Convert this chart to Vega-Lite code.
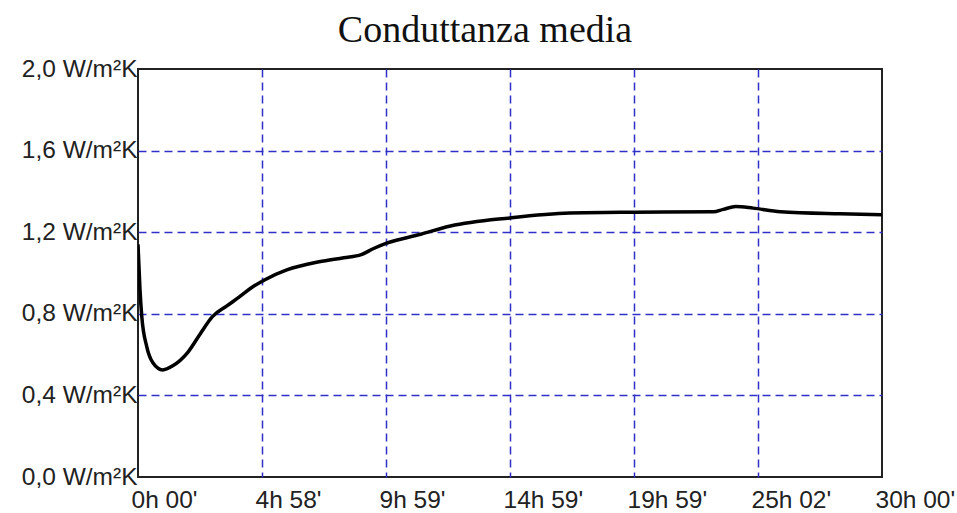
{
  "$schema": "https://vega.github.io/schema/vega-lite/v6.json",
  "width": 744,
  "height": 408,
  "autosize": "none",
  "padding": {"left": 138, "top": 69, "right": 75, "bottom": 36},
  "background": "white",
  "config": {
    "view": {"stroke": "#222222", "strokeWidth": 2},
    "axis": {
      "labelFont": "Liberation Sans",
      "labelFontSize": 24.5,
      "labelColor": "#222222",
      "domain": false,
      "ticks": false,
      "gridColor": "#3030c8",
      "gridDash": [8, 5],
      "gridWidth": 1.5,
      "title": null
    }
  },
  "title": {
    "text": "Conduttanza media",
    "font": "Liberation Serif",
    "fontSize": 38,
    "fontWeight": "normal",
    "color": "#111111",
    "anchor": "middle",
    "frame": "group",
    "baseline": "bottom",
    "dx": -25,
    "dy": 42,
    "offset": 10
  },
  "data": {
    "values": [
      {"h": 0, "v": 1.14},
      {"h": 0.08, "v": 0.92},
      {"h": 0.15, "v": 0.79},
      {"h": 0.35, "v": 0.64},
      {"h": 0.6, "v": 0.56},
      {"h": 1.0, "v": 0.525},
      {"h": 1.4, "v": 0.545},
      {"h": 2.0, "v": 0.61},
      {"h": 2.5, "v": 0.7},
      {"h": 3.0, "v": 0.786},
      {"h": 3.6, "v": 0.84},
      {"h": 4.1, "v": 0.884},
      {"h": 4.6, "v": 0.93},
      {"h": 5.1, "v": 0.966},
      {"h": 6.0, "v": 1.015},
      {"h": 7.3, "v": 1.055},
      {"h": 8.3, "v": 1.075},
      {"h": 9.0, "v": 1.09},
      {"h": 9.5, "v": 1.12},
      {"h": 10.0, "v": 1.145},
      {"h": 11.4, "v": 1.19},
      {"h": 12.6, "v": 1.23},
      {"h": 15.0, "v": 1.27},
      {"h": 17.4, "v": 1.294},
      {"h": 20.0, "v": 1.298},
      {"h": 23.2, "v": 1.3},
      {"h": 23.6, "v": 1.312},
      {"h": 24.1, "v": 1.326},
      {"h": 24.8, "v": 1.318},
      {"h": 25.9, "v": 1.3},
      {"h": 28.3, "v": 1.29},
      {"h": 30, "v": 1.286}
    ]
  },
  "mark": {"type": "line", "color": "#000000", "strokeWidth": 3.5, "interpolate": "monotone", "clip": true},
  "encoding": {
    "x": {
      "field": "h",
      "type": "quantitative",
      "scale": {"domain": [0, 30], "nice": false, "zero": false},
      "axis": {
        "values": [0, 5, 10, 15, 20, 25, 30],
        "labelAlign": "left",
        "labelBaseline": "top",
        "labelPadding": 11,
        "labelFlush": false,
        "labelOverlap": false,
        "labelBound": false,
        "labelExpr": "datum.value==0?\"0h 00'\":datum.value==5?\"4h 58'\":datum.value==10?\"9h 59'\":datum.value==15?\"14h 59'\":datum.value==20?\"19h 59'\":datum.value==25?\"25h 02'\":\"30h 00'\"",
        "labelOffset": -7,
        "gridOpacity": {"condition": {"test": "datum.value == 0 || datum.value == 30", "value": 0}, "value": 1}
      }
    },
    "y": {
      "field": "v",
      "type": "quantitative",
      "scale": {"domain": [0, 2], "nice": false},
      "axis": {
        "values": [0, 0.4, 0.8, 1.2, 1.6, 2.0],
        "labelPadding": 1,
        "labelFlush": false,
        "labelOverlap": false,
        "labelBound": false,
        "labelExpr": "replace(format(datum.value, '.1f'), '.', ',') + ' W/m²K'",
        "gridOpacity": {"condition": {"test": "datum.value == 0 || datum.value == 2", "value": 0}, "value": 1}
      }
    }
  }
}
